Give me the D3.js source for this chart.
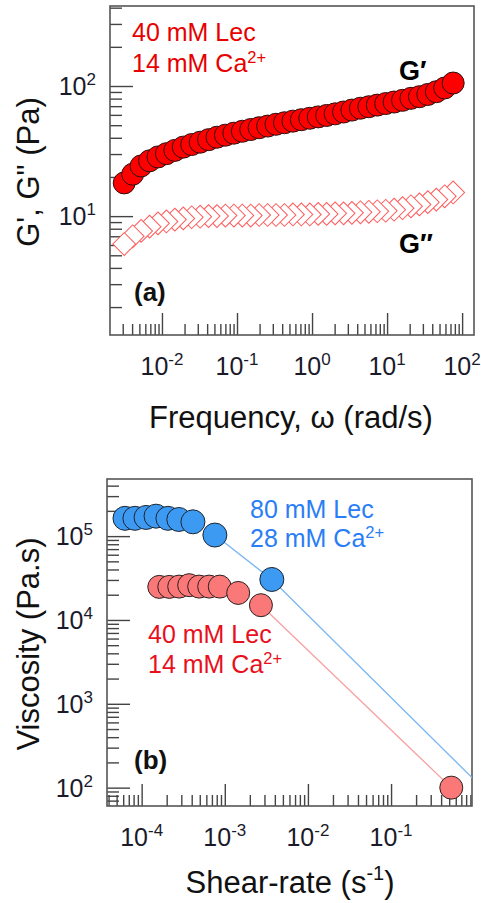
<!DOCTYPE html>
<html>
<head>
<meta charset="utf-8">
<script src="https://cdn.jsdelivr.net/npm/d3@7"></script>
<style>
  body { margin:0; background:#fff; }
  svg { display:block; font-family: "Liberation Sans", Arial, sans-serif; }
</style>
</head>
<body>
<svg id="chart" width="481" height="903"></svg>
<script>
// ---- panel (a): frequency sweep, 40 mM Lec / 14 mM Ca
const freq = [0.00314,0.00407,0.00527,0.00683,0.00885,0.01146,0.01484,0.01922,0.0249,0.0323,
  0.0418,0.0541,0.0701,0.0908,0.1177,0.1524,0.197,0.256,0.331,0.429,
  0.556,0.720,0.933,1.208,1.565,2.03,2.63,3.40,4.41,5.71,
  7.40,9.58,12.41,16.07,20.8,27.0,34.9,45.3,58.6,76.0];
const gPrime = [18.0,21.0,24.3,26.6,28.5,30.2,32.0,33.9,35.5,37.0,
  38.7,40.4,41.9,43.4,44.9,46.3,47.8,49.2,50.8,52.2,
  53.7,55.1,56.5,57.9,59.4,61.1,63.1,65.3,67.5,69.3,
  71.3,73.3,75.3,77.6,80.4,82.8,86.1,90.4,96.6,105.4];
const gDouble = [6.1,7.0,7.7,8.3,8.8,9.1,9.4,9.6,9.8,9.9,
  10.0,10.0,10.1,10.1,10.1,10.1,10.2,10.2,10.2,10.2,
  10.3,10.3,10.3,10.4,10.4,10.5,10.5,10.6,10.7,10.8,
  10.9,11.0,11.2,11.5,11.9,12.3,12.8,13.4,14.2,15.2];

// ---- panel (b): steady shear viscosity
const rate80 = [6.3e-5,8.3e-5,1.13e-4,1.49e-4,2.07e-4,2.8e-4,4.14e-4,7.6e-4,3.68e-3];
const visc80 = [1.63e5,1.63e5,1.67e5,1.73e5,1.63e5,1.58e5,1.48e5,1.03e5,3.04e4];
const rate40 = [1.63e-4,2.15e-4,2.83e-4,3.73e-4,4.92e-4,6.49e-4,8.7e-4,1.45e-3,2.72e-3,0.53];
const visc40 = [2.48e4,2.48e4,2.5e4,2.6e4,2.5e4,2.5e4,2.5e4,2.1e4,1.5e4,100];
// power-law guide lines
const fit80 = [[7.6e-4,1.03e5],[3.68e-3,3.04e4],[1.0,124]];
const fit40 = [[2.72e-3,1.5e4],[0.53,100]];

const svg = d3.select('#chart');
const A = { left:110, right:474, top:6, bottom:335 };
const B = { left:107, right:472, top:479, bottom:806 };

const xA = d3.scaleLog().domain([0.00203,144]).range([A.left,A.right]);
const yA = d3.scaleLog().domain([1.22,412]).range([A.bottom,A.top]);
const xB = d3.scaleLog().domain([3.83e-5,0.941]).range([B.left,B.right]);
const yB = d3.scaleLog().domain([60.4,4.8e5]).range([B.bottom,B.top]);

const isMajor = d => Math.abs(Math.log10(d) - Math.round(Math.log10(d))) < 1e-6;

function frame(P, x, y, id) {
  svg.append('clipPath').attr('id', id)
    .append('rect').attr('x',P.left).attr('y',P.top)
    .attr('width',P.right-P.left).attr('height',P.bottom-P.top);

  const gx = svg.append('g').attr('transform',`translate(0,${P.bottom})`)
    .call(d3.axisTop(x).tickValues(x.ticks()).tickFormat(''));
  gx.select('.domain').remove();
  gx.selectAll('.tick line').attr('y2', d => isMajor(d) ? -22 : -11)
    .attr('stroke','#444').attr('stroke-width',1.4);

  const gy = svg.append('g').attr('transform',`translate(${P.left},0)`)
    .call(d3.axisRight(y).tickValues(y.ticks()).tickFormat(''));
  gy.select('.domain').remove();
  gy.selectAll('.tick line').attr('x2', d => isMajor(d) ? 23 : 12)
    .attr('stroke','#444').attr('stroke-width',1.4);

  svg.append('rect').attr('x',P.left).attr('y',P.top)
    .attr('width',P.right-P.left).attr('height',P.bottom-P.top)
    .attr('fill','none').attr('stroke','#555').attr('stroke-width',1.6);

  // power-of-ten labels
  x.ticks().filter(isMajor).forEach(d => {
    const t = svg.append('text').attr('x', x(d)).attr('y', P.bottom + 40)
      .attr('text-anchor','middle').attr('font-size',25).attr('fill','#1a1a2a');
    t.append('tspan').text('10');
    t.append('tspan').attr('font-size',17).attr('dy',-10).text(Math.round(Math.log10(d)));
  });
  y.ticks().filter(isMajor).forEach(d => {
    const t = svg.append('text').attr('x', P.left - 14).attr('y', y(d) + 9)
      .attr('text-anchor','end').attr('font-size',25).attr('fill','#1a1a2a');
    t.append('tspan').text('10');
    t.append('tspan').attr('font-size',17).attr('dy',-10).text(Math.round(Math.log10(d)));
  });
}

function label(x, y, parts, size, color, weight) {
  const t = svg.append('text').attr('x',x).attr('y',y).attr('font-size',size)
    .attr('fill',color).attr('font-weight',weight || 'normal');
  parts.forEach(p => {
    if (p.sup) t.append('tspan').attr('font-size', size*0.66).attr('dy',-9).text(p.sup);
    else t.append('tspan').text(p.t);
  });
  return t;
}

// ---------- panel (a)
frame(A, xA, yA, 'clipA');
const gA = svg.append('g').attr('clip-path','url(#clipA)');

// hollow diamonds, earlier points on top
const diamonds = freq.map((f,i) => ({x:f, y:gDouble[i]})).reverse();
gA.selectAll('path.gdd').data(diamonds).join('path')
  .attr('class','gdd')
  .attr('d', d3.symbol().type(d3.symbolSquare).size(260))
  .attr('transform', d => `translate(${xA(d.x)},${yA(d.y)}) rotate(45)`)
  .attr('fill','#fff').attr('stroke','#ff5a5a').attr('stroke-width',1);

gA.selectAll('circle.gp').data(freq.map((f,i) => ({x:f, y:gPrime[i]}))).join('circle')
  .attr('class','gp')
  .attr('cx', d => xA(d.x)).attr('cy', d => yA(d.y)).attr('r',11)
  .attr('fill','#ff0000').attr('stroke','#2a1010').attr('stroke-width',1);

label(132, 41, [{t:'40 mM Lec'}], 25, '#e80000');
label(132, 72, [{t:'14 mM Ca'},{sup:'2+'}], 25, '#e80000');
label(399, 80, [{t:'G\u2032'}], 27, '#000', 'bold');
label(399, 253, [{t:'G\u2033'}], 27, '#000', 'bold');
label(134, 301, [{t:'(a)'}], 26, '#111', 'bold');

svg.append('text').attr('x', 291).attr('y', 428)
  .attr('text-anchor','middle').attr('font-size',31).attr('fill','#111')
  .text('Frequency, \u03c9 (rad/s)');
svg.append('text').attr('transform','translate(39,172) rotate(-90)')
  .attr('text-anchor','middle').attr('font-size',31).attr('fill','#111')
  .text('G\', G" (Pa)');

// ---------- panel (b)
frame(B, xB, yB, 'clipB');
const gB = svg.append('g').attr('clip-path','url(#clipB)');
const line = d3.line().x(d => xB(d[0])).y(d => yB(d[1]));

gB.append('path').datum(fit80).attr('d', line)
  .attr('fill','none').attr('stroke','#79b6f2').attr('stroke-width',1.3);
gB.append('path').datum(fit40).attr('d', line)
  .attr('fill','none').attr('stroke','#f6a0a0').attr('stroke-width',1.3);

gB.selectAll('circle.v40').data(rate40.map((r,i) => ({x:r, y:visc40[i]}))).join('circle')
  .attr('class','v40')
  .attr('cx', d => xB(d.x)).attr('cy', d => yB(d.y)).attr('r',11.5)
  .attr('fill','#fa7878').attr('stroke','#2b2020').attr('stroke-width',1);
gB.selectAll('circle.v80').data(rate80.map((r,i) => ({x:r, y:visc80[i]}))).join('circle')
  .attr('class','v80')
  .attr('cx', d => xB(d.x)).attr('cy', d => yB(d.y)).attr('r',12)
  .attr('fill','#3d9af2').attr('stroke','#1c2430').attr('stroke-width',1);

label(250, 518, [{t:'80 mM Lec'}], 25, '#2a7ef5');
label(250, 547, [{t:'28 mM Ca'},{sup:'2+'}], 25, '#2a7ef5');
label(148, 643, [{t:'40 mM Lec'}], 25, '#e8101c');
label(148, 673, [{t:'14 mM Ca'},{sup:'2+'}], 25, '#e8101c');
label(134, 769, [{t:'(b)'}], 26, '#111', 'bold');

const xt = svg.append('text').attr('x', 290).attr('y', 893)
  .attr('text-anchor','middle').attr('font-size',31).attr('fill','#111');
xt.append('tspan').text('Shear-rate (s');
xt.append('tspan').attr('font-size',20).attr('dy',-13).text('-1');
xt.append('tspan').attr('dy',13).text(')');

svg.append('text').attr('transform','translate(39,644) rotate(-90)')
  .attr('text-anchor','middle').attr('font-size',31).attr('fill','#111')
  .text('Viscosity (Pa.s)');
</script>
</body>
</html>
